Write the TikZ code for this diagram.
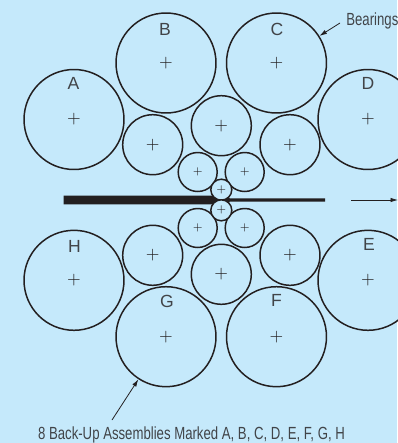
\documentclass[tikz,border=0pt]{standalone}
\usepackage{fontspec}
\setmainfont{Liberation Sans}
\newfontfamily\narrowfont[FakeStretch=0.75]{Liberation Sans}
\usepackage{tikz}
\usetikzlibrary{arrows.meta}
\definecolor{skyback}{RGB}{197,233,251}
\definecolor{rollink}{RGB}{35,31,32}
\definecolor{textink}{RGB}{65,68,72}
\tikzset{
  bigroll/.style={draw=rollink,shape=circle,fill=skyback,minimum size=2cm,line width=0.85pt,inner sep=0,text=rollink},
  midroll/.style={bigroll,minimum size=1.2cm},
  smallroll/.style={bigroll,minimum size=0.78cm,font=\fontsize{6.5}{7}\selectfont},
  workroll/.style={bigroll,minimum size=0.42cm,font=\fontsize{6.5}{7}\selectfont},
  letter/.style={text=textink,font=\fontsize{10}{12}\selectfont,inner sep=0},
  note/.style={text=textink,font=\narrowfont\fontsize{10}{12}\selectfont,inner sep=0},
  pointer/.style={draw=rollink,line width=0.45pt,-{Latex[length=1.5mm,width=0.9mm]}}
}
\begin{document}
\begin{tikzpicture}[x=0.02cm,y=-0.02cm]
      \fill[skyback] (0,0) rectangle (397,443);
      \useasboundingbox (0,0) rectangle (397,443);
      % Draw the strip
      \fill[rollink] (63.5,195.7) -- (213,195.7) -- (230,198.3) -- (325,198.3) -- (325,201.7) -- (230,201.7) -- (213,204.3) -- (63.5,204.3) -- cycle;
      % Draw the back-up assemblies
      \node[bigroll] (A) at (74,119.5) {$+$};
      \node[bigroll] (B) at (166,63) {$+$};
      \node[bigroll] (C) at (276.5,63) {$+$};
      \node[bigroll] (D) at (368,119.5) {$+$};
      \node[bigroll] (E) at (368,280.3) {$+$};
      \node[bigroll] (F) at (276.5,336.7) {$+$};
      \node[bigroll] (G) at (166,336.7) {$+$};
      \node[bigroll] (H) at (74,280.3) {$+$};
      % Draw the intermediate rolls
      \node[midroll] (upperleft) at (152.7,144.7) {$+$};
      \node[midroll] (uppermid) at (221.3,125.7) {$+$};
      \node[midroll] (upperright) at (290,144.7) {$+$};
      \node[midroll] (lowerleft) at (152.7,255.3) {$+$};
      \node[midroll] (lowermid) at (221.3,274.3) {$+$};
      \node[midroll] (lowerright) at (290,255.3) {$+$};
      % Draw the small rolls
      \node[smallroll] (upperleftsmall) at (197.7,172) {$+$};
      \node[smallroll] (upperrightsmall) at (244.7,172) {$+$};
      \node[smallroll] (lowerleftsmall) at (197.7,228) {$+$};
      \node[smallroll] (lowerrightsmall) at (244.7,228) {$+$};
      % Draw the work rolls
      \node[workroll] (upperwork) at (221.3,189.7) {$+$};
      \node[workroll] (lowerwork) at (221.3,210.3) {$+$};
      % Label the assemblies
      \node[letter] (labelA) at (73.5,83) {A};
      \node[letter] (labelB) at (165,29) {B};
      \node[letter] (labelC) at (277,29) {C};
      \node[letter] (labelD) at (368,83) {D};
      \node[letter] (labelE) at (369,244) {E};
      \node[letter] (labelF) at (276.5,300) {F};
      \node[letter] (labelG) at (167,301) {G};
      \node[letter] (labelH) at (74.5,246) {H};
      % Notes and arrows
      \node[note,anchor=west] (bearings) at (346,21) {Bearings};
      \node[note] (backup) at (191.5,435) {8 Back-Up Assemblies Marked A, B, C, D, E, F, G, H};
      \coordinate (bearingstail) at (340,23);
      \coordinate (backuptail) at (112,420);
      \coordinate (feedstart) at (351,200);
      \coordinate (feedend) at (398,200);
      \draw[pointer] (bearingstail) -- (C);
      \draw[pointer] (backuptail) -- (G);
      \draw[pointer] (feedstart) -- (feedend);
    \end{tikzpicture}
\end{document}
